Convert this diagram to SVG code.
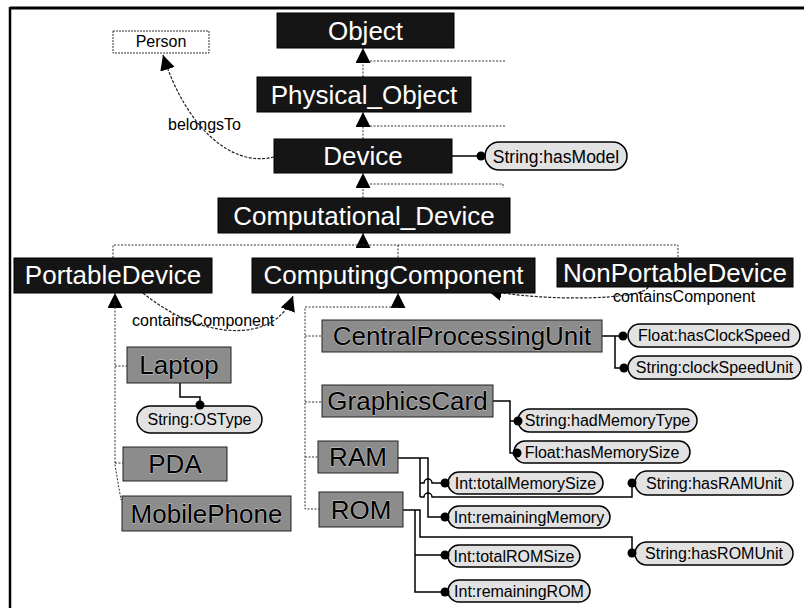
<svg xmlns="http://www.w3.org/2000/svg" width="804" height="608" viewBox="0 0 804 608">
  <style>
    .cls rect { fill: #151515; stroke: #000; stroke-width: 1; }
    .cls text { fill: #fff; font-family: "Liberation Sans", Arial, sans-serif; font-size: 26px; text-anchor: middle; }
    .sub rect { fill: #8c8c8c; stroke: #222; stroke-width: 1; }
    .sub text { fill: #000; font-family: "Liberation Sans", Arial, sans-serif; font-size: 26px; text-anchor: middle; stroke: #d0d0d0; stroke-width: 0.8; paint-order: stroke; }
    .prop rect { fill: #e2e2e2; stroke: #000; stroke-width: 1.5; }
    .prop text { fill: #000; font-family: "Liberation Sans", Arial, sans-serif; font-size: 16px; text-anchor: middle; }
    .prop circle { fill: #000; }
    .ext rect { fill: #fff; stroke: #333; stroke-width: 1; stroke-dasharray: 2 1; }
    .ext text { fill: #000; font-family: "Liberation Sans", Arial, sans-serif; font-size: 16px; text-anchor: middle; }
    .isa { fill: none; stroke: #333; stroke-width: 1; stroke-dasharray: 2 1.5; }
    .rel { fill: none; stroke: #222; stroke-width: 1.2; stroke-dasharray: 3 1.5; }
    .attr { fill: none; stroke: #000; stroke-width: 1.5; }
    .lbl { fill: #000; font-family: "Liberation Sans", Arial, sans-serif; font-size: 16px; }
  </style>
  <defs>
    <marker id="tri" markerUnits="userSpaceOnUse" markerWidth="16" markerHeight="16" refX="15" refY="7.5" orient="auto">
      <path d="M0,0 L15,7.5 L0,15 Z" fill="#000"/>
    </marker>
  </defs>

  <rect width="804" height="608" fill="#fff"/>

  <!-- frame -->
  <g id="frame" stroke="#000" fill="none">
    <path d="M10,8 H804" stroke-width="3"/>
    <path d="M10,7 V608" stroke-width="2.5"/>
  </g>

  <!-- connectors -->
  <g id="connectors">
    <!-- subclass links -->
    <path class="isa" d="M363,77 V48" marker-end="url(#tri)"/>
    <path class="isa" d="M370,61 H505"/>
    <path class="isa" d="M363,139 V112" marker-end="url(#tri)"/>
    <path class="isa" d="M370,126 H505"/>
    <path class="isa" d="M363,198 V173" marker-end="url(#tri)"/>
    <path class="isa" d="M370,184 H503 V188"/>
    <path class="isa" d="M363,245 V233" marker-end="url(#tri)"/>
    <path class="isa" d="M113,258 V245 H678 V258"/>
    <path class="isa" d="M398,245 V258"/>
    <path class="isa" d="M115,308 V293" marker-end="url(#tri)"/>
    <path class="isa" d="M115,300 V465 L121,500"/>
    <path class="isa" d="M115,366 H127"/>
    <path class="isa" d="M115,463 H123"/>
    <path class="isa" d="M398,308 V293" marker-end="url(#tri)"/>
    <path class="isa" d="M398,307 H305 V509 H319"/>
    <path class="isa" d="M305,336 H322"/>
    <path class="isa" d="M305,402 H322"/>
    <path class="isa" d="M305,457 H318"/>

    <!-- object properties -->
    <path class="rel" d="M274,157 C230,168 185,125 163,55" marker-end="url(#tri)"/>
    <path class="rel" d="M143,293 C200,340 275,345 293,296" marker-end="url(#tri)"/>
    <path class="rel" d="M648,287 C645,300 540,302 487,290" marker-end="url(#tri)"/>

    <!-- datatype properties -->
    <path class="attr" d="M452,156 H481"/>
    <path class="attr" d="M180,383 V397 H200 V405"/>
    <path class="attr" d="M602,336 H623 M615,336 V368 H624"/>
    <path class="attr" d="M493,401 H510 V453 H517 M510,421 H518"/>
    <path class="attr" d="M398,458 H428 V517 H445 M420,458 V497"/>
    <path class="attr" d="M420,483 H424 A4,4 0 0 1 432,483 H445"/>
    <path class="attr" d="M420,497 H424 A4,4 0 0 1 432,497 H632 V483"/>
    <path class="attr" d="M403,510 H420 V537 H632 V553 M415,510 V592 H445 M415,555 H445"/>

    <text class="lbl" x="168" y="130">belongsTo</text>
    <text class="lbl" x="132" y="326">containsComponent</text>
    <text class="lbl" x="613" y="302">containsComponent</text>
  </g>

  <!-- classes -->
  <g id="n-object" class="cls"><rect x="277" y="13" width="177" height="35"/><text x="365.5" y="40">Object</text></g>
  <g id="n-physical-object" class="cls"><rect x="257" y="77" width="214" height="35"/><text x="364" y="104">Physical_Object</text></g>
  <g id="n-device" class="cls"><rect x="274" y="139" width="178" height="34"/><text x="363" y="165">Device</text></g>
  <g id="n-computational-device" class="cls"><rect x="218" y="198" width="292" height="35"/><text x="364" y="225">Computational_Device</text></g>
  <g id="n-portable-device" class="cls"><rect x="14" y="258" width="198" height="35"/><text x="113" y="284">PortableDevice</text></g>
  <g id="n-computing-component" class="cls"><rect x="252" y="258" width="283" height="35"/><text x="393.5" y="284">ComputingComponent</text></g>
  <g id="n-nonportable-device" class="cls"><rect x="557" y="258" width="236" height="29"/><text x="675" y="282">NonPortableDevice</text></g>

  <g id="n-person" class="ext"><rect x="113" y="31" width="96" height="22"/><text x="161" y="47">Person</text></g>

  <!-- subclasses -->
  <g id="n-laptop" class="sub"><rect x="127" y="347" width="104" height="36"/><text x="179" y="374">Laptop</text></g>
  <g id="n-pda" class="sub"><rect x="123" y="447" width="104" height="34"/><text x="175" y="473">PDA</text></g>
  <g id="n-mobilephone" class="sub"><rect x="122" y="496" width="169" height="35"/><text x="206.5" y="523">MobilePhone</text></g>
  <g id="n-cpu" class="sub"><rect x="322" y="320" width="280" height="32"/><text x="462" y="345">CentralProcessingUnit</text></g>
  <g id="n-graphicscard" class="sub"><rect x="322" y="385" width="171" height="32"/><text x="407.5" y="410">GraphicsCard</text></g>
  <g id="n-ram" class="sub"><rect x="318" y="441" width="80" height="32"/><text x="358" y="466">RAM</text></g>
  <g id="n-rom" class="sub"><rect x="319" y="492" width="84" height="35"/><text x="361" y="519">ROM</text></g>

  <!-- datatype properties -->
  <g id="p-hasmodel" class="prop"><rect x="485" y="142" width="142" height="28" rx="14"/><circle cx="481" cy="156" r="4.5"/><text x="556" y="162.5" style="font-size:17.5px">String:hasModel</text></g>
  <g id="p-ostype" class="prop"><rect x="137" y="406" width="125" height="27" rx="13.5"/><circle cx="200" cy="405" r="4.5"/><text x="199.5" y="425">String:OSType</text></g>
  <g id="p-hasclockspeed" class="prop"><rect x="628" y="324" width="172" height="23" rx="11.5"/><circle cx="623" cy="336" r="4.5"/><text x="714" y="341">Float:hasClockSpeed</text></g>
  <g id="p-clockspeedunit" class="prop"><rect x="628" y="356" width="173" height="23" rx="11.5"/><circle cx="624" cy="368" r="4.5"/><text x="714.5" y="373">String:clockSpeedUnit</text></g>
  <g id="p-hadmemorytype" class="prop"><rect x="518" y="409" width="179" height="23" rx="11.5"/><circle cx="518" cy="421" r="4.5"/><text x="607.5" y="426">String:hadMemoryType</text></g>
  <g id="p-hasmemorysize" class="prop"><rect x="514" y="441" width="176" height="22" rx="11"/><circle cx="517" cy="453" r="4.5"/><text x="602" y="457.5">Float:hasMemorySize</text></g>
  <g id="p-totalmemorysize" class="prop"><rect x="448" y="472" width="155" height="22" rx="11"/><circle cx="445" cy="483" r="4.5"/><text x="525.5" y="488.5">Int:totalMemorySize</text></g>
  <g id="p-remainingmemory" class="prop"><rect x="448" y="506" width="162" height="22" rx="11"/><circle cx="445" cy="517" r="4.5"/><text x="529" y="522.5">Int:remainingMemory</text></g>
  <g id="p-hasramunit" class="prop"><rect x="635" y="471" width="158" height="24" rx="12"/><circle cx="632" cy="483" r="4.5"/><text x="714" y="488.5">String:hasRAMUnit</text></g>
  <g id="p-totalromsize" class="prop"><rect x="448" y="545" width="132" height="22" rx="11"/><circle cx="445" cy="555" r="4.5"/><text x="514" y="561.5">Int:totalROMSize</text></g>
  <g id="p-hasromunit" class="prop"><rect x="635" y="542" width="158" height="23" rx="11.5"/><circle cx="632" cy="553" r="4.5"/><text x="714" y="559">String:hasROMUnit</text></g>
  <g id="p-remainingrom" class="prop"><rect x="448" y="580" width="142" height="22" rx="11"/><circle cx="445" cy="592" r="4.5"/><text x="519" y="597">Int:remainingROM</text></g>
</svg>
